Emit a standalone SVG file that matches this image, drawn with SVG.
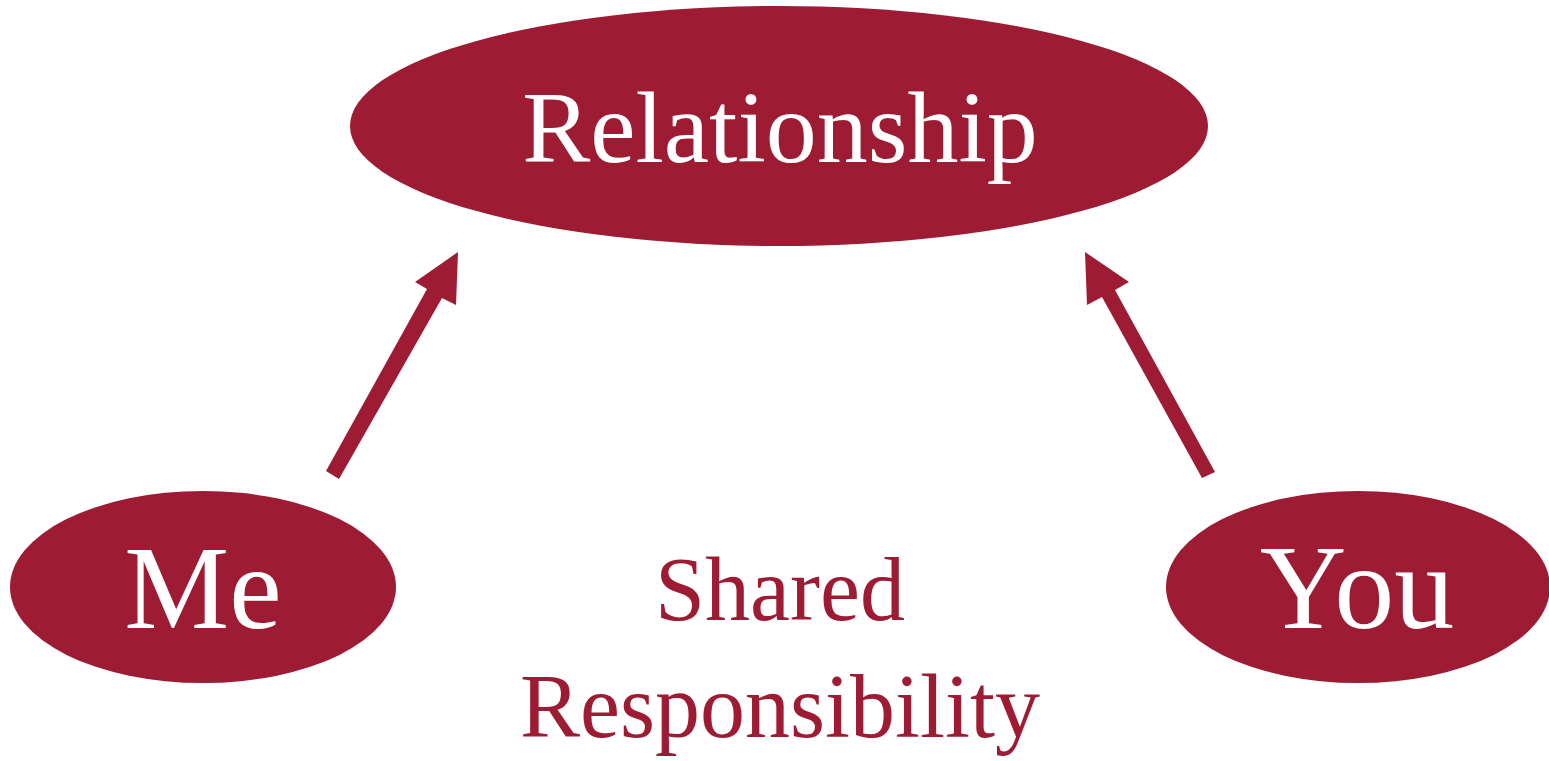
<svg xmlns="http://www.w3.org/2000/svg" width="1549" height="761" viewBox="0 0 1549 761">
  <style>
    .node { fill: #9D1C34; }
    .label { font-family: "Liberation Serif", "DejaVu Serif", serif; fill: #FFFFFF; text-anchor: middle; }
    .arrow { fill: #9D1C34; }
    .caption { font-family: "Liberation Serif", "DejaVu Serif", serif; fill: #9D1C34; text-anchor: middle; font-size: 90px; }
  </style>
  <rect width="1549" height="761" fill="#FFFFFF"/>

  <g id="connectors">
    <!-- Me to Relationship -->
    <polygon class="arrow" points="326,471 339,479 442,298 456,305 458,252 415,282 427,289"/>
    <!-- You to Relationship -->
    <polygon class="arrow" points="1215,472 1202,478 1102,297 1087,305 1085,252 1129,282 1115,290"/>
  </g>

  <g id="node-relationship">
    <ellipse class="node" cx="779" cy="126" rx="429" ry="120"/>
    <text class="label" x="780" y="162" font-size="102">Relationship</text>
  </g>

  <g id="node-me">
    <ellipse class="node" cx="203" cy="587" rx="193" ry="96"/>
    <text class="label" x="203" y="628" font-size="118">Me</text>
  </g>

  <g id="node-you">
    <ellipse class="node" cx="1358" cy="587" rx="192" ry="96"/>
    <text class="label" x="1357" y="628" font-size="120">You</text>
  </g>

  <g id="caption">
    <text class="caption" x="780" y="620">Shared</text>
    <text class="caption" x="780" y="737">Responsibility</text>
  </g>
</svg>
